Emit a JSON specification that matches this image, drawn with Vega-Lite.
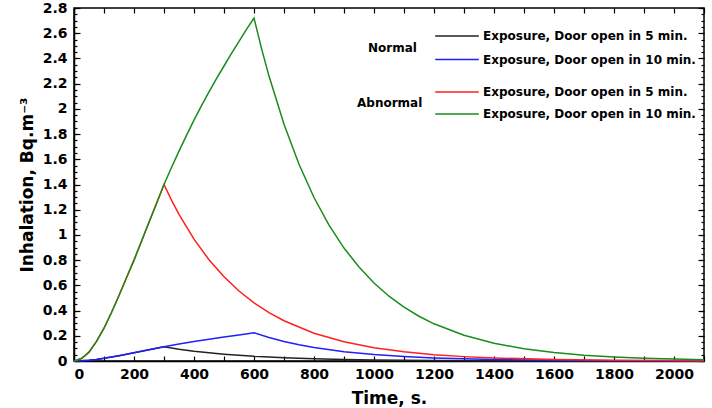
{
  "$schema": "https://vega.github.io/schema/vega-lite/v6.json",
  "width": 630,
  "height": 353,
  "autosize": {"type": "none"},
  "padding": {"left": 74, "top": 8, "right": 8, "bottom": 47},
  "background": "white",
  "config": {
    "view": {"stroke": "black", "strokeWidth": 1.5},
    "font": "DejaVu Sans",
    "axis": {
      "domainColor": "black", "domainWidth": 1.5, "tickColor": "black", "tickWidth": 1.2,
      "labelFont": "DejaVu Sans", "labelFontSize": 14, "labelFontWeight": "bold", "labelColor": "black",
      "titleFont": "DejaVu Sans", "titleFontSize": 17, "titleFontWeight": "bold", "titleColor": "black",
      "grid": false, "labelOverlap": false
    },
    "legend": {
      "symbolType": "stroke", "symbolStrokeWidth": 1.5, "symbolSize": 1900,
      "labelFont": "DejaVu Sans", "labelFontSize": 12, "labelFontWeight": "bold", "labelColor": "black",
      "titleFont": "DejaVu Sans", "titleFontSize": 12, "titleFontWeight": "bold", "titleColor": "black",
      "titleOrient": "left", "titleAngle": 0, "titleBaseline": "middle", "titleAnchor": "middle",
      "labelOffset": 3, "labelLimit": 400, "clipHeight": 20
    }
  },
  "data": {"values": [
    {"s": "N5", "t": 0, "v": 0}, {"s": "N5", "t": 25, "v": 0.0016}, {"s": "N5", "t": 50, "v": 0.0057}, {"s": "N5", "t": 75, "v": 0.0126}, {"s": "N5", "t": 100, "v": 0.021}, {"s": "N5", "t": 125, "v": 0.031}, {"s": "N5", "t": 150, "v": 0.042}, {"s": "N5", "t": 175, "v": 0.054}, {"s": "N5", "t": 200, "v": 0.065}, {"s": "N5", "t": 225, "v": 0.077}, {"s": "N5", "t": 250, "v": 0.089}, {"s": "N5", "t": 275, "v": 0.101}, {"s": "N5", "t": 300, "v": 0.113}, {"s": "N5", "t": 350, "v": 0.094}, {"s": "N5", "t": 400, "v": 0.078}, {"s": "N5", "t": 450, "v": 0.065}, {"s": "N5", "t": 500, "v": 0.054}, {"s": "N5", "t": 600, "v": 0.037}, {"s": "N5", "t": 700, "v": 0.026}, {"s": "N5", "t": 800, "v": 0.018}, {"s": "N5", "t": 900, "v": 0.012}, {"s": "N5", "t": 1000, "v": 0.0085}, {"s": "N5", "t": 1200, "v": 0.004}, {"s": "N5", "t": 1400, "v": 0.0019}, {"s": "N5", "t": 1700, "v": 0.0006}, {"s": "N5", "t": 2100, "v": 0.0001},
    {"s": "N10", "t": 0, "v": 0}, {"s": "N10", "t": 25, "v": 0.0016}, {"s": "N10", "t": 50, "v": 0.0057}, {"s": "N10", "t": 75, "v": 0.0126}, {"s": "N10", "t": 100, "v": 0.021}, {"s": "N10", "t": 125, "v": 0.031}, {"s": "N10", "t": 150, "v": 0.042}, {"s": "N10", "t": 175, "v": 0.054}, {"s": "N10", "t": 200, "v": 0.065}, {"s": "N10", "t": 225, "v": 0.077}, {"s": "N10", "t": 250, "v": 0.089}, {"s": "N10", "t": 275, "v": 0.101}, {"s": "N10", "t": 300, "v": 0.113}, {"s": "N10", "t": 350, "v": 0.135}, {"s": "N10", "t": 400, "v": 0.154}, {"s": "N10", "t": 450, "v": 0.173}, {"s": "N10", "t": 500, "v": 0.19}, {"s": "N10", "t": 550, "v": 0.207}, {"s": "N10", "t": 600, "v": 0.224}, {"s": "N10", "t": 650, "v": 0.186}, {"s": "N10", "t": 700, "v": 0.155}, {"s": "N10", "t": 750, "v": 0.129}, {"s": "N10", "t": 800, "v": 0.107}, {"s": "N10", "t": 900, "v": 0.074}, {"s": "N10", "t": 1000, "v": 0.051}, {"s": "N10", "t": 1100, "v": 0.035}, {"s": "N10", "t": 1200, "v": 0.024}, {"s": "N10", "t": 1400, "v": 0.0116}, {"s": "N10", "t": 1600, "v": 0.0055}, {"s": "N10", "t": 1800, "v": 0.0026}, {"s": "N10", "t": 2100, "v": 0.0009},
    {"s": "A5", "t": 0, "v": 0}, {"s": "A5", "t": 25, "v": 0.02}, {"s": "A5", "t": 50, "v": 0.07}, {"s": "A5", "t": 75, "v": 0.155}, {"s": "A5", "t": 100, "v": 0.26}, {"s": "A5", "t": 125, "v": 0.385}, {"s": "A5", "t": 150, "v": 0.52}, {"s": "A5", "t": 175, "v": 0.66}, {"s": "A5", "t": 200, "v": 0.8}, {"s": "A5", "t": 225, "v": 0.95}, {"s": "A5", "t": 250, "v": 1.1}, {"s": "A5", "t": 275, "v": 1.25}, {"s": "A5", "t": 300, "v": 1.4}, {"s": "A5", "t": 325, "v": 1.276}, {"s": "A5", "t": 350, "v": 1.163}, {"s": "A5", "t": 400, "v": 0.967}, {"s": "A5", "t": 450, "v": 0.803}, {"s": "A5", "t": 500, "v": 0.668}, {"s": "A5", "t": 550, "v": 0.555}, {"s": "A5", "t": 600, "v": 0.461}, {"s": "A5", "t": 650, "v": 0.383}, {"s": "A5", "t": 700, "v": 0.319}, {"s": "A5", "t": 800, "v": 0.22}, {"s": "A5", "t": 900, "v": 0.152}, {"s": "A5", "t": 1000, "v": 0.105}, {"s": "A5", "t": 1100, "v": 0.0727}, {"s": "A5", "t": 1200, "v": 0.0503}, {"s": "A5", "t": 1300, "v": 0.0347}, {"s": "A5", "t": 1400, "v": 0.024}, {"s": "A5", "t": 1600, "v": 0.0115}, {"s": "A5", "t": 1800, "v": 0.0055}, {"s": "A5", "t": 2100, "v": 0.0018},
    {"s": "A10", "t": 0, "v": 0}, {"s": "A10", "t": 25, "v": 0.02}, {"s": "A10", "t": 50, "v": 0.07}, {"s": "A10", "t": 75, "v": 0.155}, {"s": "A10", "t": 100, "v": 0.26}, {"s": "A10", "t": 125, "v": 0.385}, {"s": "A10", "t": 150, "v": 0.52}, {"s": "A10", "t": 175, "v": 0.66}, {"s": "A10", "t": 200, "v": 0.8}, {"s": "A10", "t": 225, "v": 0.95}, {"s": "A10", "t": 250, "v": 1.1}, {"s": "A10", "t": 275, "v": 1.25}, {"s": "A10", "t": 300, "v": 1.4}, {"s": "A10", "t": 325, "v": 1.535}, {"s": "A10", "t": 350, "v": 1.665}, {"s": "A10", "t": 375, "v": 1.79}, {"s": "A10", "t": 400, "v": 1.91}, {"s": "A10", "t": 425, "v": 2.025}, {"s": "A10", "t": 450, "v": 2.135}, {"s": "A10", "t": 475, "v": 2.24}, {"s": "A10", "t": 500, "v": 2.34}, {"s": "A10", "t": 525, "v": 2.44}, {"s": "A10", "t": 550, "v": 2.535}, {"s": "A10", "t": 575, "v": 2.63}, {"s": "A10", "t": 600, "v": 2.72}, {"s": "A10", "t": 625, "v": 2.48}, {"s": "A10", "t": 650, "v": 2.26}, {"s": "A10", "t": 700, "v": 1.878}, {"s": "A10", "t": 750, "v": 1.561}, {"s": "A10", "t": 800, "v": 1.297}, {"s": "A10", "t": 850, "v": 1.078}, {"s": "A10", "t": 900, "v": 0.896}, {"s": "A10", "t": 950, "v": 0.745}, {"s": "A10", "t": 1000, "v": 0.619}, {"s": "A10", "t": 1050, "v": 0.514}, {"s": "A10", "t": 1100, "v": 0.427}, {"s": "A10", "t": 1150, "v": 0.355}, {"s": "A10", "t": 1200, "v": 0.295}, {"s": "A10", "t": 1300, "v": 0.204}, {"s": "A10", "t": 1400, "v": 0.141}, {"s": "A10", "t": 1500, "v": 0.0974}, {"s": "A10", "t": 1600, "v": 0.0673}, {"s": "A10", "t": 1700, "v": 0.0465}, {"s": "A10", "t": 1800, "v": 0.0321}, {"s": "A10", "t": 1900, "v": 0.0222}, {"s": "A10", "t": 2000, "v": 0.0153}, {"s": "A10", "t": 2100, "v": 0.0106}
  ]},
  "resolve": {"scale": {"color": "independent"}, "axis": {"x": "independent", "y": "independent"}},
  "layer": [
    {
      "transform": [{"filter": "datum.s == 'N5' || datum.s == 'N10'"}],
      "mark": {"type": "line", "strokeWidth": 1.5},
      "encoding": {
        "x": {"field": "t", "type": "quantitative", "scale": {"domain": [0, 2100], "nice": false},
          "axis": {"orient": "bottom", "title": "Time, s.", "values": [0,200,400,600,800,1000,1200,1400,1600,1800,2000], "format": "d", "ticks": false, "labelPadding": 6, "titlePadding": 9}},
        "y": {"field": "v", "type": "quantitative", "scale": {"domain": [0, 2.8], "nice": false},
          "axis": {"orient": "left", "title": "Inhalation, Bq.m⁻³", "values": [0,0.2,0.4,0.6,0.8,1,1.2,1.4,1.6,1.8,2,2.2,2.4,2.6,2.8],
            "format": "~g", "ticks": false, "labelPadding": 7, "titlePadding": 6}},
        "color": {"field": "s", "type": "nominal", "scale": {"domain": ["N5", "N10"], "range": ["#222222", "#1f1fff"]},
          "legend": {"title": "Normal", "orient": "none", "legendX": 294, "legendY": 18, "titlePadding": 17, "rowPadding": 3.5,
            "labelExpr": "datum.value == 'N5' ? 'Exposure, Door open in 5 min.' : 'Exposure, Door open in 10 min.'"}}
      }
    },
    {
      "transform": [{"filter": "datum.s == 'A5' || datum.s == 'A10'"}],
      "mark": {"type": "line", "strokeWidth": 1.5},
      "encoding": {
        "x": {"field": "t", "type": "quantitative", "scale": {"domain": [0, 2100], "nice": false},
          "axis": {"orient": "bottom", "title": null, "labels": false, "domain": false, "ticks": true, "tickSize": -5,
            "values": [0,100,200,300,400,500,600,700,800,900,1000,1100,1200,1300,1400,1500,1600,1700,1800,1900,2000,2100]}},
        "y": {"field": "v", "type": "quantitative", "scale": {"domain": [0, 2.8], "nice": false},
          "axis": {"orient": "left", "title": null, "labels": false, "domain": false, "ticks": true, "tickSize": -3,
            "values": [0,0.05,0.1,0.15,0.2,0.25,0.3,0.35,0.4,0.45,0.5,0.55,0.6,0.65,0.7,0.75,0.8,0.85,0.9,0.95,1,1.05,1.1,1.15,1.2,1.25,1.3,1.35,1.4,1.45,1.5,1.55,1.6,1.65,1.7,1.75,1.8,1.85,1.9,1.95,2,2.05,2.1,2.15,2.2,2.25,2.3,2.35,2.4,2.45,2.5,2.55,2.6,2.65,2.7,2.75,2.8]}},
        "color": {"field": "s", "type": "nominal", "scale": {"domain": ["A5", "A10"], "range": ["#ff1f1f", "#1a8c1a"]},
          "legend": {"title": "Abnormal", "orient": "none", "legendX": 283, "legendY": 74, "titlePadding": 11, "rowPadding": 2,
            "labelExpr": "datum.value == 'A5' ? 'Exposure, Door open in 5 min.' : 'Exposure, Door open in 10 min.'"}}
      }
    },
    {
      "mark": {"type": "point", "opacity": 0},
      "encoding": {
        "x": {"field": "t", "type": "quantitative", "scale": {"domain": [0, 2100], "nice": false},
          "axis": {"orient": "top", "title": null, "labels": false, "domain": false, "ticks": true, "tickSize": -5,
            "values": [0,100,200,300,400,500,600,700,800,900,1000,1100,1200,1300,1400,1500,1600,1700,1800,1900,2000,2100]}},
        "y": {"field": "v", "type": "quantitative", "scale": {"domain": [0, 2.8], "nice": false},
          "axis": {"orient": "left", "title": null, "labels": false, "domain": false, "ticks": true, "tickSize": -6,
            "values": [0,0.2,0.4,0.6,0.8,1,1.2,1.4,1.6,1.8,2,2.2,2.4,2.6,2.8]}}
      }
    },
    {
      "mark": {"type": "point", "opacity": 0},
      "encoding": {
        "x": {"field": "t", "type": "quantitative", "scale": {"domain": [0, 2100], "nice": false}, "axis": null},
        "y": {"field": "v", "type": "quantitative", "scale": {"domain": [0, 2.8], "nice": false},
          "axis": {"orient": "right", "title": null, "labels": false, "domain": false, "ticks": true, "tickSize": -3,
            "values": [0,0.05,0.1,0.15,0.2,0.25,0.3,0.35,0.4,0.45,0.5,0.55,0.6,0.65,0.7,0.75,0.8,0.85,0.9,0.95,1,1.05,1.1,1.15,1.2,1.25,1.3,1.35,1.4,1.45,1.5,1.55,1.6,1.65,1.7,1.75,1.8,1.85,1.9,1.95,2,2.05,2.1,2.15,2.2,2.25,2.3,2.35,2.4,2.45,2.5,2.55,2.6,2.65,2.7,2.75,2.8]}}
      }
    },
    {
      "mark": {"type": "point", "opacity": 0},
      "encoding": {
        "x": {"field": "t", "type": "quantitative", "scale": {"domain": [0, 2100], "nice": false}, "axis": null},
        "y": {"field": "v", "type": "quantitative", "scale": {"domain": [0, 2.8], "nice": false},
          "axis": {"orient": "right", "title": null, "labels": false, "domain": false, "ticks": true, "tickSize": -6,
            "values": [0,0.2,0.4,0.6,0.8,1,1.2,1.4,1.6,1.8,2,2.2,2.4,2.6,2.8]}}
      }
    }
  ]
}
